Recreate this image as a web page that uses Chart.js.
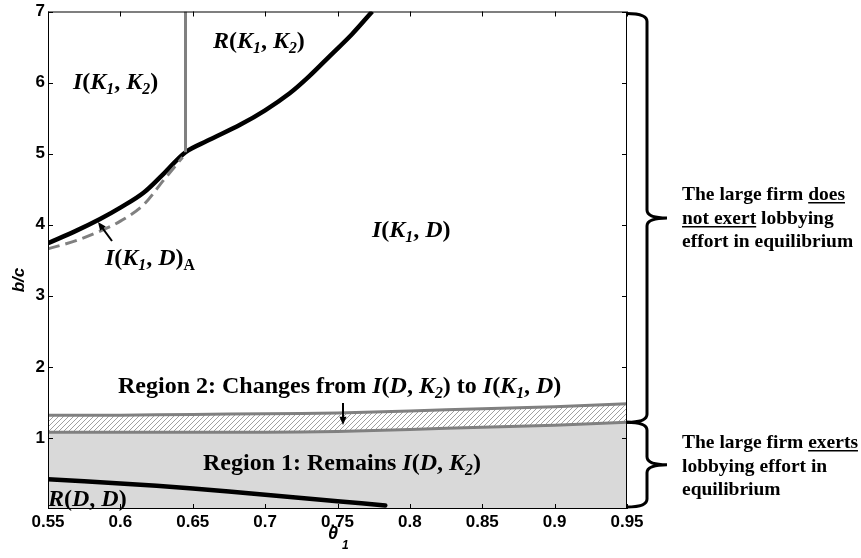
<!DOCTYPE html>
<html>
<head>
<meta charset="utf-8">
<script src="https://cdn.jsdelivr.net/npm/chart.js@4.4.0/dist/chart.umd.min.js"></script>
<style>
  html, body { margin: 0; padding: 0; background: #fff; }
</style>
</head>
<body>
<canvas id="myChart" width="861" height="558"></canvas>
<script>
// boundaries (theta_1 on x, b/c on y)
const bandTheta = [0.55, 0.6, 0.65, 0.7, 0.75, 0.8, 0.85, 0.9, 0.95];
const region1Top = [1.08, 1.08, 1.08, 1.08, 1.09, 1.12, 1.15, 1.18, 1.22];
const region2Top = [1.32, 1.32, 1.33, 1.34, 1.35, 1.38, 1.41, 1.44, 1.48];

const rddTheta = [0.55, 0.6, 0.65, 0.7, 0.75, 0.783];
const rddValues = [0.42, 0.36, 0.29, 0.2, 0.11, 0.05];

const upperTheta = [0.55, 0.57, 0.586, 0.6, 0.616, 0.63, 0.645, 0.66, 0.683, 0.7, 0.717, 0.73, 0.745, 0.76, 0.774];
const upperValues = [3.74, 3.92, 4.08, 4.24, 4.45, 4.72, 5.02, 5.18, 5.41, 5.61, 5.85, 6.08, 6.38, 6.68, 7.0];

const dashTheta = [0.55, 0.57, 0.586, 0.6, 0.616, 0.63, 0.643];
const dashValues = [3.66, 3.78, 3.91, 4.05, 4.28, 4.63, 4.95];

const splitTheta = [0.645, 0.645];
const splitValues = [5.02, 7];

const xTicks = [0.55, 0.6, 0.65, 0.7, 0.75, 0.8, 0.85, 0.9, 0.95];
const yTicks = [1, 2, 3, 4, 5, 6, 7];

const canvas = document.getElementById("myChart");
const ctx = canvas.getContext("2d");

function pts(xs, ys) {
  return xs.map((x, i) => ({ x: x, y: ys[i] }));
}

// diagonal hatching for region 2
function hatchPattern() {
  const c = document.createElement("canvas");
  c.width = 5; c.height = 5;
  const h = c.getContext("2d");
  h.fillStyle = "#fff";
  h.fillRect(0, 0, 5, 5);
  h.strokeStyle = "#a0a0a0";
  h.lineWidth = 1;
  h.beginPath();
  h.moveTo(0, 5); h.lineTo(5, 0);
  h.moveTo(-1, 1); h.lineTo(1, -1);
  h.moveTo(4, 6); h.lineTo(6, 4);
  h.stroke();
  return ctx.createPattern(c, "repeat");
}

const SERIF = '"Liberation Serif", "DejaVu Serif", serif';
const SANS = '"Liberation Sans", Arial, sans-serif';

// rich text: segments [text, flags] flags: i italic, s subscript, u underline
function rich(c, x, y, segs, size) {
  let cx = x;
  segs.forEach((s) => {
    const f = s[1] || "";
    const sz = f.includes("s") ? size * 0.66 : size;
    c.font = (f.includes("i") ? "italic " : "") + "bold " + sz + "px " + SERIF;
    const dy = f.includes("s") ? size * 0.22 : 0;
    c.fillText(s[0], cx, y + dy);
    const w = c.measureText(s[0]).width;
    if (f.includes("u")) {
      c.fillRect(cx, y + 2, w, 1.5);
    }
    cx += w;
  });
  return cx - x;
}

function arrow(c, x1, y1, x2, y2, head) {
  const a = Math.atan2(y2 - y1, x2 - x1);
  c.beginPath();
  c.moveTo(x1, y1);
  c.lineTo(x2 - Math.cos(a) * head * 0.6, y2 - Math.sin(a) * head * 0.6);
  c.lineWidth = 2;
  c.strokeStyle = "#000";
  c.stroke();
  c.beginPath();
  c.moveTo(x2, y2);
  c.lineTo(x2 - head * Math.cos(a - 0.4), y2 - head * Math.sin(a - 0.4));
  c.lineTo(x2 - head * Math.cos(a + 0.4), y2 - head * Math.sin(a + 0.4));
  c.closePath();
  c.fillStyle = "#000";
  c.fill();
}

function brace(c, x0, yTop, yBot) {
  const xv = x0 + 20, xt = x0 + 40, r = 8;
  const mid = (yTop + yBot) / 2;
  c.beginPath();
  c.moveTo(x0, yTop);
  c.quadraticCurveTo(xv, yTop, xv, yTop + r);
  c.lineTo(xv, mid - r);
  c.quadraticCurveTo(xv, mid, xt, mid);
  c.moveTo(xt, mid);
  c.quadraticCurveTo(xv, mid, xv, mid + r);
  c.lineTo(xv, yBot - r);
  c.quadraticCurveTo(xv, yBot, x0, yBot);
  c.lineWidth = 3;
  c.strokeStyle = "#000";
  c.stroke();
}

const framePlugin = {
  id: "frame",
  afterDraw(chart) {
    const c = chart.ctx;
    const a = chart.chartArea;
    const xs = chart.scales.x, ys = chart.scales.y;
    c.save();
    // box
    c.strokeStyle = "#000";
    c.lineWidth = 1;
    c.strokeRect(a.left + 0.5, a.top + 0.5, a.right - a.left - 1, a.bottom - a.top - 1);
    // inward ticks
    c.beginPath();
    xTicks.forEach((v) => {
      const px = Math.round(xs.getPixelForValue(v)) + 0.5;
      c.moveTo(px, a.bottom); c.lineTo(px, a.bottom - 5);
      c.moveTo(px, a.top); c.lineTo(px, a.top + 5);
    });
    yTicks.forEach((v) => {
      const py = Math.round(ys.getPixelForValue(v)) + 0.5;
      c.moveTo(a.left, py); c.lineTo(a.left + 5, py);
      c.moveTo(a.right, py); c.lineTo(a.right - 5, py);
    });
    c.stroke();

    // axis titles
    c.fillStyle = "#000";
    c.save();
    c.translate(24, 280);
    c.rotate(-Math.PI / 2);
    c.font = "italic bold 17px " + SANS;
    c.textAlign = "center";
    c.fillText("b/c", 0, 0);
    c.restore();
    c.font = "italic bold 18px " + SANS;
    c.fillText("\u03B8", 328, 539);
    c.font = "italic bold 12px " + SANS;
    c.fillText("1", 342, 549);

    // region labels
    const L = 24;
    c.fillStyle = "#000";
    rich(c, 73, 89, [["I", "i"], ["("], ["K", "i"], ["1", "is"], [", "], ["K", "i"], ["2", "is"], [")"]], L);
    rich(c, 213, 48, [["R", "i"], ["("], ["K", "i"], ["1", "is"], [", "], ["K", "i"], ["2", "is"], [")"]], L);
    rich(c, 372, 237, [["I", "i"], ["("], ["K", "i"], ["1", "is"], [", "], ["D", "i"], [")"]], L);
    rich(c, 105, 265, [["I", "i"], ["("], ["K", "i"], ["1", "is"], [", "], ["D", "i"], [")"], ["A", "s"]], L);
    rich(c, 118, 393, [["Region 2: Changes from "], ["I", "i"], ["("], ["D", "i"], [", "], ["K", "i"], ["2", "is"], [") to "],
      ["I", "i"], ["("], ["K", "i"], ["1", "is"], [", "], ["D", "i"], [")"]], L);
    rich(c, 203, 470, [["Region 1: Remains "], ["I", "i"], ["("], ["D", "i"], [", "], ["K", "i"], ["2", "is"], [")"]], L);
    rich(c, 48, 506, [["R", "i"], ["("], ["D", "i"], [", "], ["D", "i"], [")"]], L);

    arrow(c, 112, 241, 98, 222, 9);
    arrow(c, 343, 403, 343, 425, 9);

    // braces and side notes
    const yJoin = ys.getPixelForValue(region1Top[region1Top.length - 1]);
    brace(c, a.right, a.top + 2, yJoin);
    brace(c, a.right, yJoin, a.bottom - 2);

    const S = 19.5;
    c.fillStyle = "#000";
    rich(c, 682, 200, [["The large firm "], ["does", "u"]], S);
    rich(c, 682, 224, [["not exert", "u"], [" lobbying"]], S);
    rich(c, 682, 247, [["effort in equilibrium"]], S);
    rich(c, 682, 448, [["The large firm "], ["exerts", "u"]], S);
    rich(c, 682, 472, [["lobbying effort in"]], S);
    rich(c, 682, 495, [["equilibrium"]], S);
    c.restore();
  }
};

const GREY = "#808080";
const tickFont = { family: "Liberation Sans", weight: "bold", size: 17, lineHeight: 1 };

new Chart(ctx, {
  type: "line",
  data: {
    datasets: [
      {
        label: "Region 1",
        data: pts(bandTheta, region1Top),
        borderColor: GREY,
        borderWidth: 3,
        backgroundColor: "#d9d9d9",
        fill: "origin",
        tension: 0.3
      },
      {
        label: "Region 2",
        data: pts(bandTheta, region2Top),
        borderColor: GREY,
        borderWidth: 3,
        backgroundColor: hatchPattern(),
        fill: "-1",
        tension: 0.3
      },
      {
        label: "R(D,D)",
        data: pts(rddTheta, rddValues),
        borderColor: "#000",
        borderWidth: 4.5,
        borderCapStyle: "round",
        fill: false,
        tension: 0.3
      },
      {
        label: "I(K1,D)A",
        data: pts(dashTheta, dashValues),
        borderColor: GREY,
        borderWidth: 3,
        borderDash: [12, 6],
        fill: false,
        cubicInterpolationMode: "monotone"
      },
      {
        label: "split",
        data: pts(splitTheta, splitValues),
        borderColor: GREY,
        borderWidth: 3,
        fill: false
      },
      {
        label: "upper",
        data: pts(upperTheta, upperValues),
        borderColor: "#000",
        borderWidth: 4.5,
        fill: false,
        tension: 0.35
      }
    ]
  },
  options: {
    responsive: false,
    animation: false,
    layout: { padding: { top: 10, right: 234, left: 0, bottom: 0 } },
    elements: { point: { radius: 0 } },
    plugins: {
      legend: { display: false },
      tooltip: { enabled: false },
      filler: { drawTime: "beforeDatasetsDraw" }
    },
    scales: {
      x: {
        type: "linear",
        min: 0.55,
        max: 0.95,
        afterBuildTicks: (s) => { s.ticks = xTicks.map((v) => ({ value: v })); },
        ticks: {
          color: "#000",
          font: tickFont,
          padding: 5,
          maxRotation: 0,
          autoSkip: false,
          callback: (v) => String(Math.round(v * 100) / 100)
        },
        grid: { display: false, drawTicks: false },
        border: { display: false },
        afterFit: (s) => { s.height = 49; }
      },
      y: {
        min: 0,
        max: 7,
        afterBuildTicks: (s) => { s.ticks = yTicks.map((v) => ({ value: v })); },
        ticks: {
          color: "#000",
          font: tickFont,
          padding: 3,
          callback: (v) => String(v)
        },
        grid: { display: false, drawTicks: false },
        border: { display: false },
        afterFit: (s) => { s.width = 48; }
      }
    }
  },
  plugins: [framePlugin]
});
</script>
</body>
</html>
